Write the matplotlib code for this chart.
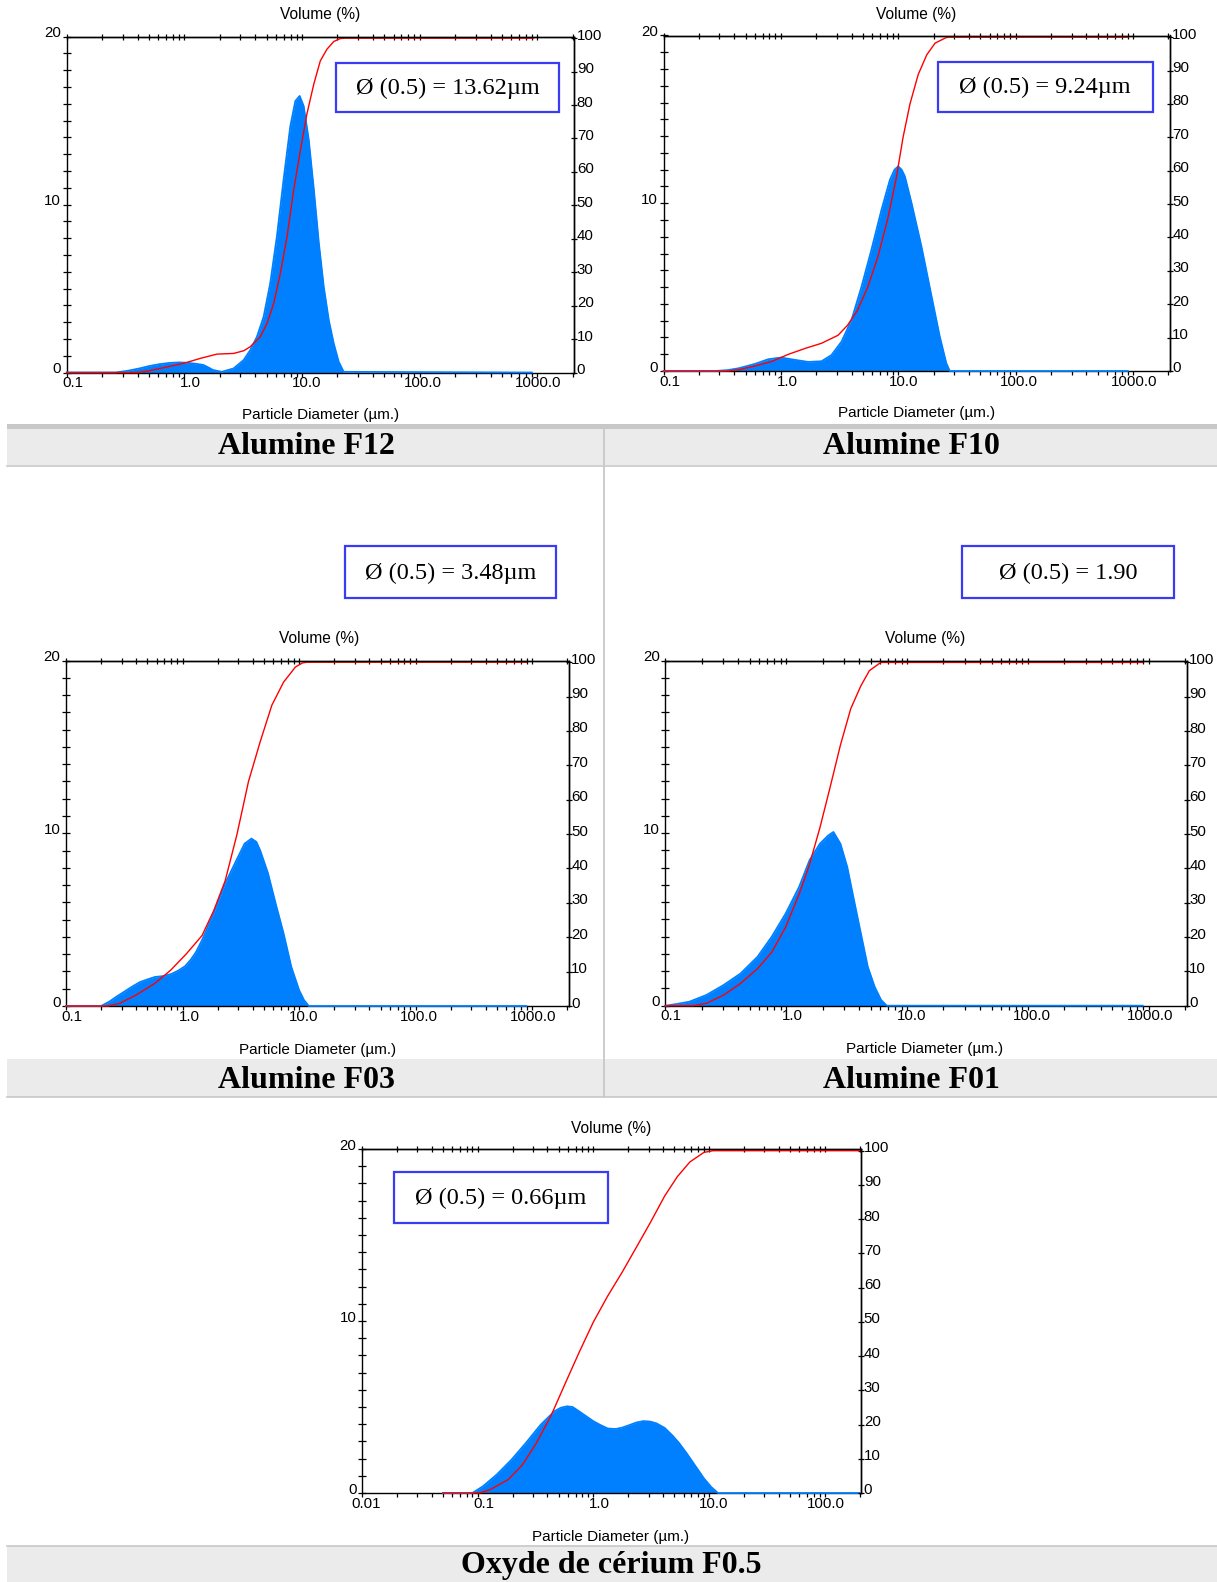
import matplotlib
matplotlib.use("Agg")
import matplotlib.pyplot as plt
import matplotlib.transforms as mtransforms
from matplotlib.patches import Rectangle
from matplotlib.ticker import FixedLocator, LogLocator, NullFormatter

W, H, DPI = 1217, 1582, 100
SANS = "Liberation Sans"
SERIF = "Liberation Serif"
BLUE = "#0080ff"
RED = "#ff0000"
plt.rcParams["font.family"] = [SANS, "DejaVu Sans"]

# ---------------- data ----------------
# Alumine F12
f12_freq_d = [0.1, 0.26, 0.33, 0.42, 0.5, 0.62, 0.75, 0.9, 1.05, 1.25, 1.45, 1.6, 1.75, 2.08,
              2.62, 3.19, 3.63, 4.14, 4.72, 5.37, 6.12, 6.98, 7.96, 8.78, 9.55, 10.33, 11.4,
              12.6, 13.9, 15.3, 16.9, 18.6, 20.5, 22.6, 900]
f12_freq_v = [0, 0, 0.1, 0.25, 0.38, 0.5, 0.57, 0.6, 0.58, 0.52, 0.45, 0.3, 0.15, 0.04,
              0.24, 0.74, 1.33, 2.13, 3.32, 5.31, 8.1, 11.5, 14.67, 16.16, 16.46, 15.86, 13.87,
              10.9, 7.7, 5.1, 3.1, 1.73, 0.64, 0.04, 0]
f12_cum_d = [0.1, 0.4, 0.5, 0.7, 1.0, 1.36, 1.89, 2.62, 3.19, 3.63, 4.42, 5.03, 5.74, 6.54,
             7.45, 8.49, 9.68, 11.0, 12.6, 14.3, 16.3, 18.6, 21.2, 23.5, 930]
f12_cum_v = [0, 0, 0.5, 1.6, 2.8, 4.2, 5.5, 5.7, 6.5, 7.7, 10.7, 14.6, 20.6, 29.6,
             40.5, 54.5, 66.4, 77.3, 86.3, 93.2, 96.7, 99.0, 99.9, 100, 100]

# Alumine F10
f10_freq_d = [0.1, 0.275, 0.35, 0.435, 0.6, 0.78, 1.0, 1.33, 1.71, 2.22, 2.7, 3.29, 4.0, 4.87,
              5.9, 7.2, 8.5, 9.3, 10.0, 10.7, 11.4, 13.0, 15.8, 19.3, 22.6, 25.7, 27.5, 906]
f10_freq_v = [0, 0, 0.05, 0.16, 0.42, 0.7, 0.8, 0.66, 0.54, 0.58, 0.95, 1.75, 3.04, 5.03,
              7.2, 9.6, 11.4, 12.0, 12.2, 12.0, 11.6, 10.0, 7.4, 4.4, 2.05, 0.46, 0, 0]
f10_cum_d = [0.1, 0.36, 0.45, 0.6, 0.83, 1.16, 1.62, 2.22, 3.07, 3.7, 4.5, 5.5, 6.7, 8.2,
             9.65, 11.0, 12.6, 14.8, 17.5, 20.6, 25.0, 26.5, 906]
f10_cum_v = [0, 0, 0.5, 1.5, 2.8, 5.0, 6.8, 8.3, 10.7, 13.7, 18.2, 25.1, 34.1, 46,
             58, 70, 80, 88.8, 94.7, 98.2, 99.7, 100, 100]

# Alumine F03
f03_freq_d = [0.1, 0.2, 0.235, 0.271, 0.32, 0.369, 0.43, 0.5, 0.58, 0.68, 0.8, 0.92, 1.05,
              1.17, 1.3, 1.47, 1.65, 1.85, 2.32, 2.93, 3.41, 3.9, 4.3, 4.64, 5.4, 6.31, 7.36,
              8.57, 10.0, 11.0, 12.1, 890]
f03_freq_v = [0, 0, 0.25, 0.54, 0.85, 1.12, 1.38, 1.54, 1.68, 1.73, 1.85, 2.05, 2.3,
              2.66, 3.1, 3.81, 4.6, 5.36, 7.09, 8.5, 9.4, 9.69, 9.5, 9.0, 7.7, 5.9, 4.2,
              2.27, 0.92, 0.35, 0, 0]
f03_cum_d = [0.1, 0.23, 0.29, 0.4, 0.58, 0.79, 1.08, 1.47, 1.85, 2.32, 2.93, 3.68, 4.64,
             5.84, 7.36, 9.3, 10.7, 11.7, 890]
f03_cum_v = [0, 0, 0.8, 3.2, 6.6, 10.4, 15.2, 20.5, 27.7, 36.4, 49.9, 65.3, 76.9,
             87.5, 94.2, 98.6, 99.8, 100, 100]

# Alumine F01
f01_freq_d = [0.1, 0.12, 0.158, 0.219, 0.304, 0.42, 0.58, 0.76, 0.99, 1.28, 1.56, 1.9, 2.23,
              2.46, 2.81, 3.2, 3.64, 4.15, 4.73, 5.39, 6.1, 6.8, 890]
f01_freq_v = [0, 0.08, 0.23, 0.62, 1.2, 1.87, 2.84, 4.0, 5.34, 6.89, 8.43, 9.39, 9.87,
              10.07, 9.39, 8.04, 6.11, 4.18, 2.26, 1.1, 0.33, 0, 0]
f01_cum_d = [0.1, 0.17, 0.219, 0.304, 0.42, 0.58, 0.76, 0.99, 1.28, 1.56, 1.9, 2.3, 2.81,
             3.42, 4.15, 4.88, 5.9, 6.1, 890]
f01_cum_v = [0, 0, 0.7, 3.1, 6.5, 10.8, 15.6, 22.9, 32.5, 41.2, 51.8, 63.4, 75.9,
             86.5, 93.2, 97.6, 99.7, 100, 100]

# Oxyde de cerium F0.5
ce_freq_d = [0.05, 0.09, 0.111, 0.146, 0.196, 0.26, 0.35, 0.46, 0.52, 0.59, 0.66, 0.75, 0.87,
             1.0, 1.15, 1.33, 1.55, 1.77, 2.05, 2.35, 2.7, 3.1, 3.5, 4.13, 4.8, 5.5, 6.4, 7.3,
             8.2, 9.0, 10.4, 11.9, 200]
ce_freq_v = [0, 0, 0.39, 1.07, 1.94, 2.9, 3.97, 4.75, 4.95, 5.04, 5.0, 4.75, 4.45,
             4.17, 3.95, 3.75, 3.72, 3.8, 3.95, 4.1, 4.18, 4.15, 4.05, 3.78, 3.35, 2.9, 2.3, 1.74,
             1.25, 0.85, 0.35, 0, 0]
ce_cum_d = [0.05, 0.104, 0.128, 0.183, 0.243, 0.32, 0.43, 0.57, 0.75, 1.0, 1.33, 1.77, 2.35,
            3.1, 4.13, 5.3, 6.8, 9.0, 10.8, 200]
ce_cum_v = [0, 0, 1.0, 3.9, 8.2, 14.5, 22.6, 32, 41.0, 50.0, 57.6, 64.5, 71.8,
            79.0, 86.8, 92.4, 96.7, 99.5, 100, 100]

# ticks / labels
al_xticks = [0.1, 1, 10, 100, 1000]
al_xlabels = ["0.1", "1.0", "10.0", "100.0", "1000.0"]
al_xlim = [0.1, 2050]
ce_xticks = [0.01, 0.1, 1, 10, 100]
ce_xlabels = ["0.01", "0.1", "1.0", "10.0", "100.0"]
ce_xlim = [0.01, 205]
freq_ticks = [0, 10, 20]
freq_labels = ["0", "10", "20"]
freq_minor = [0, 1, 2, 3, 4, 5, 6, 7, 8, 9, 10, 11, 12, 13, 14, 15, 16, 17, 18, 19, 20]
cum_ticks = [0, 10, 20, 30, 40, 50, 60, 70, 80, 90, 100]
cum_labels = ["0", "10", "20", "30", "40", "50", "60", "70", "80", "90", "100"]

titles = ["Alumine F12", "Alumine F10", "Alumine F03", "Alumine F01", "Oxyde de cérium F0.5"]
d50_texts = ["Ø (0.5) = 13.62µm", "Ø (0.5) = 9.24µm", "Ø (0.5) = 3.48µm",
             "Ø (0.5) = 1.90", "Ø (0.5) = 0.66µm"]

# ---------------- layout (pixels) ----------------
axes_px = [(66.7, 36.5, 574, 372.5), (663.5, 35.5, 1169.5, 371),
           (66, 660.5, 568.5, 1006), (665.3, 660.7, 1186.5, 1005.7),
           (362, 1149, 861, 1493)]
al_label_shift = [6, 6.5, 5, 3.5, 1]
ce_label_shift = [4, 6.5, 6, 4.5, 1]
vol_pos = [(320, 15), (916, 14), (319, 638), (925, 638), (611, 1128)]
xlab_pos = [(321, 415), (917, 413), (318, 1050), (925, 1049), (611, 1537)]
title_pos = [(306, 447), (911, 447), (306, 1080), (911, 1080), (611, 1565)]
box_px = [(336, 62.5, 559, 112), (937.5, 62, 1153, 111.5), (345, 546, 556, 598),
          (962, 546, 1174, 598), (394, 1172, 608, 1223)]

fig = plt.figure(figsize=(W / DPI, H / DPI), dpi=DPI)


def px_off(dx, dy):
    return mtransforms.ScaledTranslation(dx / DPI, -dy / DPI, fig.dpi_scale_trans)


def panel(rect, xlim, xt, xl, shifts, fd, fv, cd, cv):
    L, T, R, B = rect
    ax = fig.add_axes([L / W, 1 - B / H, (R - L) / W, (B - T) / H], zorder=2)
    ax.set_xscale("log")
    ax.fill_between(fd, fv, 0, color=BLUE, lw=0, zorder=2)
    ax.plot(fd, fv, color=BLUE, lw=1.3, zorder=3, clip_on=False)
    ax.set_xlim(*xlim)
    ax.set_ylim(0, 20)
    ax.set_xticks(xt, labels=xl)
    ax.xaxis.set_minor_locator(LogLocator(base=10, subs=(2, 3, 4, 5, 6, 7, 8, 9), numticks=30))
    ax.xaxis.set_minor_formatter(NullFormatter())
    ax.set_yticks(freq_ticks, labels=freq_labels)
    ax.yaxis.set_minor_locator(FixedLocator(freq_minor))
    ax.tick_params(axis="x", which="both", direction="out", bottom=True, top=False,
                   length=3, width=0.9, labelsize=10.8, pad=1)
    ax.tick_params(axis="y", which="both", direction="inout", left=True, right=False,
                   length=6, width=0.9, labelsize=10.8, pad=1)
    for s in ax.spines.values():
        s.set_linewidth(1.0)
        s.set_color("black")

    ax2 = ax.twinx()
    ax2.set_zorder(3)
    ax2.plot(cd, cv, color=RED, lw=1.0, clip_on=False)
    ax2.set_ylim(0, 100.5)
    ax2.set_xlim(*xlim)
    ax2.set_yticks(cum_ticks, labels=cum_labels)
    ax2.tick_params(axis="y", which="major", direction="inout", right=True, length=4,
                    width=0.9, labelsize=10.8, pad=0)
    ax2.xaxis.set_visible(True)
    ax2.tick_params(axis="x", which="both", direction="inout", top=True, bottom=False,
                    labeltop=False, labelbottom=False, length=4, width=0.9)
    for name, s in ax2.spines.items():
        s.set_linewidth(1.0)
        s.set_color("black")
        if name in ("bottom", "left"):
            s.set_visible(False)

    for lab, sh in zip(ax.get_xticklabels(), shifts):
        lab.set_transform(lab.get_transform() + px_off(sh, -2))
    for lab in ax.get_yticklabels():
        lab.set_transform(lab.get_transform() + px_off(0, -5))
    for lab in ax2.get_yticklabels():
        lab.set_transform(lab.get_transform() + px_off(0, -4))
    return ax, ax2


datasets = [
    (al_xlim, al_xticks, al_xlabels, al_label_shift, f12_freq_d, f12_freq_v, f12_cum_d, f12_cum_v),
    (al_xlim, al_xticks, al_xlabels, al_label_shift, f10_freq_d, f10_freq_v, f10_cum_d, f10_cum_v),
    (al_xlim, al_xticks, al_xlabels, al_label_shift, f03_freq_d, f03_freq_v, f03_cum_d, f03_cum_v),
    (al_xlim, al_xticks, al_xlabels, al_label_shift, f01_freq_d, f01_freq_v, f01_cum_d, f01_cum_v),
    (ce_xlim, ce_xticks, ce_xlabels, ce_label_shift, ce_freq_d, ce_freq_v, ce_cum_d, ce_cum_v),
]
for rect, ds in zip(axes_px, datasets):
    panel(rect, *ds)

# ---------------- overlay: bands, titles, boxes ----------------
ov = fig.add_axes([0, 0, 1, 1], zorder=10)
ov.set_xlim(0, W)
ov.set_ylim(H, 0)
ov.axis("off")

GRAY_LINE = "#c8c8c8"
BAND = "#ebebeb"
# band 1
ov.add_patch(Rectangle((7, 424), W - 7, 5, color=GRAY_LINE, lw=0))
ov.add_patch(Rectangle((7, 429), W - 7, 36, color=BAND, lw=0))
ov.plot([7, W], [465.5, 465.5], color=GRAY_LINE, lw=1.2)
# band 2
ov.add_patch(Rectangle((7, 1059), W - 7, 38, color=BAND, lw=0))
ov.plot([7, W], [1097, 1097], color=GRAY_LINE, lw=1.2)
# vertical separator
ov.plot([604, 604], [429, 1097], color=GRAY_LINE, lw=1.3)
# band 3
ov.add_patch(Rectangle((7, 1546), W - 7, 36, color=BAND, lw=0))
ov.plot([7, W], [1546, 1546], color=GRAY_LINE, lw=1.2)

for (x, y) in vol_pos:
    ov.text(x, y, "Volume (%)", ha="center", va="center", fontsize=11.2, family=SANS)
for (x, y) in xlab_pos:
    ov.text(x, y, "Particle Diameter (µm.)", ha="center", va="center", fontsize=11, family=SANS)
for (x, y), t in zip(title_pos, titles):
    ov.text(x, y, t, ha="center", va="center", fontsize=23, fontweight="bold", family=SERIF)
for (x0, y0, x1, y1), t in zip(box_px, d50_texts):
    ov.add_patch(Rectangle((x0, y0), x1 - x0, y1 - y0, facecolor="white",
                           edgecolor="#3b3bf5", lw=1.6))
    ov.text((x0 + x1) / 2, (y0 + y1) / 2 + 1, t, ha="center", va="center",
            fontsize=17.5, family=SERIF)

fig.savefig("out.png", dpi=DPI)
